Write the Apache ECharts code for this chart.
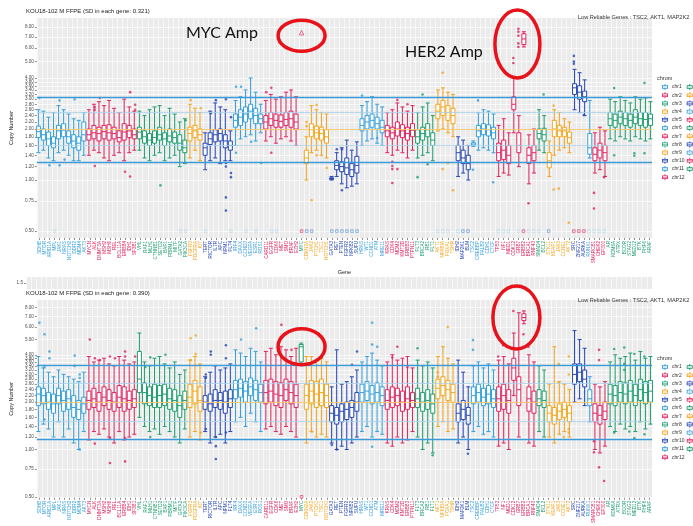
<!DOCTYPE html>
<html><head><meta charset="utf-8">
<script src="https://cdn.jsdelivr.net/npm/echarts@6/dist/echarts.min.js"></script>
<style>html,body{margin:0;padding:0;background:#fff}#c{width:693px;height:526px}</style>
</head><body><div id="c"></div>
<script>
const genes = ['SDHB','MTOR','ARID1A','MPL','JAK1','NRAS','NOTCH2','DDR2','MDM4','AKT3',
'MYCN','ALK','DNMT3A','MSH2','MSH6','REL','BCL11A','ERBB4','IDH1','SF3B1',
'VHL','RAF1','MLH1','CTNNB1','SETD2','BAP1','PBRM1','MITF','GATA2','PIK3CA',
'FGFR3','PDGFRA','KIT',
'TERT','RICTOR','IL7R','APC','NPM1','FLT4',
'IRF4','DAXX','CCND3','VEGFA','ESR1','ROS1',
'CARD11','EGFR','CDK6','MET','SMO','BRAF','EZH2',
'MYC',
'CDKN2A','JAK2','PTCH1','TSC1','NOTCH1',
'GATA3','RET','PTEN','FGFR2','NFKB2','SUFU',
'HRAS','WT1','CCND1','ATM','MRE11',
'KRAS','CDK4','MDM2','KMT2D','ERBB3','PTPN11',
'FLT3','BRCA2','RB1','FLT1',
'AKT1','NFKBIA','FOXA1','TSHR',
'IDH2','MAP2K1','BLM',
'TSC2','CREBBP','PALB2','CDH1','CTCF',
'TP53','NF1','MED1','CDK12','GRB7','ERBB2','BRCA1','RNF43',
'SMAD4','BCL2',
'STK11','KEAP1','JAK3','CCNE1','AKT2',
'SRC','ZNF217','AURKA',
'RUNX1',
'SMARCB1','CHEK2','EP300',
'AR','KDM6A','ATRX','BCOR','STAG2','MED12','BTK','PHF6','ARAF'];
const chromNames = ['chr1','chr2','chr3','chr4','chr5','chr6','chr7','chr8','chr9','chr10','chr11','chr12',
'chr13','chr14','chr15','chr16','chr17','chr18','chr19','chr20','chr21','chr22','chrX'];
const chromGeneCounts = [10,10,10,3,6,6,7,1,5,6,5,6,4,4,3,5,8,2,5,3,1,3,9];
const yTicks = [0.5,0.75,1,1.2,1.4,1.6,1.8,2,2.2,2.4,2.6,2.8,3,3.2,3.4,3.6,3.8,4,5,6,7,8];
const refTop = [3.1,2.5,2.0,1.6,1.28];
const refBot = [3.44,2.62,2.0,1.52,1.16];

// [min, Q1, median, Q3, max] per gene, top panel (SD 0.321)
const topBox = [
[1.45,1.78,1.93,2.08,2.6],[1.5,1.72,1.85,2.0,2.55],[1.35,1.6,1.75,1.92,2.35],[1.3,1.55,1.65,1.8,2.5],[1.45,1.75,1.95,2.1,2.75],
[1.5,1.8,1.97,2.15,2.6],[1.4,1.65,1.8,1.95,2.45],[1.3,1.55,1.7,1.85,2.3],[1.3,1.5,1.65,1.8,2.25],[1.4,1.7,1.85,2.2,2.5],
[1.4,1.72,1.85,2.0,2.6],[1.5,1.75,1.9,2.1,2.8],[1.45,1.7,1.88,2.05,2.9],[1.35,1.75,1.93,2.1,2.75],[1.3,1.72,1.9,2.12,2.95],
[1.4,1.75,1.88,2.05,2.65],[1.45,1.68,1.78,1.95,2.5],[1.3,1.72,1.92,2.15,3.0],[1.45,1.78,1.95,2.1,2.7],[1.5,1.75,1.85,2.0,2.55],
[1.5,1.75,1.92,2.05,2.55],[1.35,1.65,1.8,1.95,2.4],[1.3,1.6,1.72,1.88,2.6],[1.4,1.65,1.78,1.95,2.7],[1.45,1.72,1.85,2.05,2.75],
[1.3,1.6,1.75,1.9,2.4],[1.35,1.68,1.82,2.0,2.65],[1.4,1.65,1.78,1.92,2.45],[1.2,1.5,1.65,1.85,2.2],[1.25,1.45,1.55,1.72,2.3],
[1.35,1.7,1.88,2.05,2.8],[1.5,1.78,1.95,2.1,2.65],[1.3,1.72,1.85,2.0,2.5],
[1.15,1.4,1.55,1.65,1.9],[1.3,1.62,1.75,1.9,2.55],[1.35,1.68,1.85,1.98,2.85],[1.25,1.7,1.88,2.0,2.7],[1.3,1.55,1.7,1.85,2.6],[1.3,1.5,1.6,1.7,1.95],
[1.6,2.05,2.25,2.45,2.95],[1.75,2.1,2.35,2.6,3.1],[1.8,2.2,2.45,2.7,3.4],[1.85,2.3,2.55,2.8,4.0],[1.7,2.15,2.4,2.65,3.3],[1.9,2.15,2.3,2.45,2.8],
[1.7,2.0,2.2,2.4,2.95],[1.8,2.1,2.3,2.5,3.2],[1.65,2.05,2.25,2.45,3.0],[1.75,2.05,2.22,2.42,3.1],[1.8,2.1,2.28,2.5,3.3],[1.7,2.05,2.3,2.55,3.4],[1.6,2.0,2.2,2.45,3.1],
null,
[1.0,1.25,1.35,1.5,1.8],[1.45,1.8,1.98,2.15,2.75],[1.5,1.75,1.9,2.08,2.6],[1.4,1.72,1.88,2.05,2.5],[1.35,1.65,1.8,1.98,2.45],
[1.0,1.01,1.02,1.03,1.05],[1.05,1.15,1.22,1.3,1.45],[0.95,1.12,1.2,1.28,1.55],[0.9,1.08,1.18,1.35,1.72],[0.92,1.05,1.15,1.25,1.5],[0.95,1.1,1.22,1.38,1.68],
[1.6,1.95,2.1,2.3,2.75],[1.7,2.0,2.2,2.4,2.9],[1.75,2.05,2.25,2.45,3.1],[1.65,2.0,2.15,2.35,2.8],[1.6,1.9,2.05,2.25,2.7],
[1.45,1.8,1.95,2.1,2.5],[1.4,1.75,1.9,2.05,2.6],[1.5,1.82,2.0,2.2,2.85],[1.45,1.78,1.95,2.12,2.7],[1.35,1.72,1.88,2.05,2.55],[1.5,1.8,1.97,2.15,2.75],
[1.35,1.65,1.8,1.98,2.5],[1.4,1.72,1.88,2.05,2.7],[1.45,1.8,1.98,2.15,2.85],[1.3,1.6,1.72,1.9,2.4],
[1.95,2.3,2.55,2.8,3.4],[2.0,2.4,2.7,2.95,3.5],[1.9,2.25,2.5,2.75,3.3],[1.8,2.15,2.4,2.65,3.2],
[1.05,1.3,1.45,1.6,1.8],[1.1,1.25,1.35,1.5,1.72],[1.0,1.15,1.25,1.4,1.6],
[1.58,1.6,1.63,1.66,1.7],[1.5,1.8,1.95,2.1,2.5],[1.55,1.85,2.0,2.15,2.6],[1.5,1.82,1.98,2.12,2.55],[1.45,1.75,1.9,2.05,2.45],
[1.05,1.3,1.45,1.65,2.1],[1.1,1.32,1.5,1.72,2.3],[1.07,1.25,1.4,1.6,1.9],[1.9,2.6,2.8,3.1,4.0],[1.2,1.45,1.6,1.9,2.4],[6.1,6.3,6.8,7.3,7.5],[0.95,1.25,1.4,1.55,1.85],[1.1,1.3,1.45,1.6,2.0],
[1.5,1.75,1.88,2.0,2.6],[1.45,1.7,1.85,2.02,2.4],
[1.05,1.18,1.3,1.45,1.7],[1.4,1.8,2.0,2.25,2.6],[1.5,1.8,1.95,2.1,2.5],[1.55,1.8,1.95,2.05,2.3],[1.45,1.65,1.78,1.92,2.2],
[2.6,3.2,3.5,3.7,4.5],[2.5,3.0,3.3,3.6,4.3],[2.4,2.9,3.1,3.35,3.9],
[1.35,1.42,1.55,1.88,2.95],
[1.1,1.3,1.42,1.55,1.9],[1.15,1.35,1.5,1.65,2.05],[1.05,1.3,1.45,1.6,1.95],
[1.75,2.1,2.3,2.5,3.0],[1.7,2.05,2.25,2.45,2.9],[1.8,2.15,2.35,2.55,3.1],[1.75,2.1,2.3,2.5,2.95],[1.7,2.05,2.25,2.45,2.85],
[1.8,2.15,2.35,2.6,3.1],[1.75,2.1,2.3,2.5,3.0],[1.7,2.05,2.28,2.5,3.05],[1.75,2.1,2.3,2.45,2.9]
];
// bottom panel (SD 0.390)
const botBox = [
[1.3,1.9,2.25,2.5,3.9],[1.45,1.95,2.2,2.45,3.3],[1.35,1.8,2.0,2.3,3.1],[1.2,1.7,1.95,2.25,2.9],[1.5,1.95,2.2,2.45,3.2],
[1.2,1.75,2.05,2.35,3.0],[1.35,1.8,2.1,2.4,2.9],[1.1,1.6,1.85,2.2,2.8],[1.0,1.55,1.8,2.05,2.7],[1.3,1.7,1.95,2.15,3.1],
[1.15,1.8,2.05,2.35,3.9],[1.3,1.85,2.1,2.45,3.6],[1.25,1.75,2.0,2.3,3.7],[1.35,1.9,2.15,2.5,3.8],[1.2,1.8,2.05,2.4,3.5],
[1.1,1.75,2.0,2.3,3.4],[1.3,1.85,2.15,2.55,3.9],[1.15,1.75,2.1,2.5,3.7],[1.2,1.8,2.05,2.35,3.5],[1.25,1.85,2.1,2.4,3.6],
[1.6,2.3,2.8,4.2,5.5],[1.4,1.95,2.3,2.65,3.6],[1.3,1.9,2.2,2.5,3.4],[1.35,1.85,2.15,2.6,3.8],[1.25,1.85,2.2,2.55,3.9],
[1.4,1.9,2.25,2.6,3.5],[1.3,1.8,2.1,2.45,3.3],[1.2,1.75,2.05,2.4,3.6],[1.1,1.6,1.9,2.2,3.0],[1.35,1.8,2.05,2.35,3.2],
[1.2,1.85,2.15,2.6,3.7],[1.3,1.95,2.35,2.75,3.9],[1.15,1.75,2.05,2.5,3.5],
[1.3,1.8,2.0,2.2,2.9],[1.1,1.75,1.95,2.25,3.1],[1.2,1.85,2.05,2.4,3.4],[1.25,1.8,2.05,2.3,3.2],[1.1,1.7,2.0,2.35,3.3],[1.3,1.85,2.1,2.4,3.5],
[1.5,2.1,2.4,2.75,4.3],[1.6,2.15,2.45,2.8,4.1],[1.4,2.0,2.35,2.7,3.9],[1.7,2.2,2.5,2.85,4.4],[1.5,2.05,2.4,2.75,4.2],[1.3,2.0,2.3,2.6,3.6],
[1.35,1.95,2.3,2.75,4.2],[1.4,2.0,2.35,2.8,4.4],[1.3,1.9,2.25,2.7,4.0],[1.25,1.85,2.2,2.65,4.5],[1.4,2.05,2.4,2.8,4.3],[1.3,1.95,2.3,2.7,3.9],[1.2,1.85,2.2,2.6,4.4],
[3.5,3.6,4.5,4.65,4.75],
[1.1,1.8,2.2,2.6,3.9],[1.3,1.95,2.35,2.75,3.9],[1.2,1.85,2.25,2.7,3.7],[1.25,1.9,2.3,2.8,3.8],[1.2,1.85,2.2,2.6,3.6],
[1.1,1.5,1.7,1.9,2.5],[1.0,1.45,1.65,1.85,4.3],[1.05,1.5,1.75,1.95,2.6],[1.0,1.55,1.8,2.0,2.7],[1.1,1.6,1.85,2.05,2.9],[1.2,1.75,2.0,2.3,3.2],
[1.3,2.0,2.3,2.6,3.6],[1.4,2.05,2.35,2.7,3.9],[1.2,1.95,2.25,2.55,4.1],[1.3,2.0,2.3,2.65,3.7],[1.25,1.9,2.2,2.5,3.4],
[1.1,1.8,2.05,2.4,3.6],[1.05,1.85,2.15,2.5,4.0],[1.2,1.9,2.2,2.45,3.7],[1.1,1.75,2.0,2.35,3.8],[1.15,1.8,2.1,2.5,3.9],[1.3,1.85,2.05,2.3,3.3],
[1.2,1.85,2.1,2.45,3.7],[1.0,1.75,2.0,2.3,3.4],[1.1,1.8,2.05,2.4,3.6],[0.95,1.7,1.95,2.25,3.3],
[1.4,2.1,2.45,2.8,3.9],[1.5,2.2,2.55,2.9,4.5],[1.3,2.05,2.4,2.75,3.8],[1.35,2.0,2.3,2.6,3.5],
[1.1,1.5,1.7,1.95,3.7],[1.2,1.55,1.8,2.05,3.1],[1.0,1.45,1.65,1.85,2.5],
[1.3,1.95,2.2,2.5,3.4],[1.4,2.0,2.3,2.6,3.6],[1.25,1.9,2.15,2.45,3.3],[1.3,1.95,2.25,2.55,3.5],[1.2,1.85,2.1,2.4,3.2],
[1.05,1.75,2.1,2.5,3.7],[1.1,1.8,2.2,2.6,3.9],[1.0,1.7,2.05,2.4,3.5],[2.2,2.75,3.3,3.8,5.5],[1.2,1.9,2.4,2.9,7.4],[6.3,6.6,6.9,7.3,7.6],[1.1,1.75,2.1,2.5,4.0],[1.05,1.7,2.0,2.35,3.6],
[1.3,1.9,2.1,2.4,3.4],[1.2,1.85,2.05,2.35,3.2],
[1.2,1.5,1.7,1.9,2.6],[1.1,1.45,1.65,1.85,4.5],[1.25,1.55,1.75,1.95,2.7],[1.3,1.6,1.8,2.0,2.6],[1.2,1.5,1.7,1.9,2.4],
[2.0,2.6,3.0,3.5,5.7],[2.1,2.7,3.1,3.5,5.0],[1.9,2.5,2.8,3.2,4.4],
[1.5,1.9,2.1,2.4,2.9],
[1.0,1.5,1.7,1.95,2.6],[0.95,1.45,1.65,1.9,2.5],[1.05,1.55,1.75,2.0,2.7],
[1.4,1.95,2.25,2.6,3.6],[1.3,1.9,2.2,2.55,4.0],[1.45,2.0,2.3,2.7,3.8],[1.35,1.95,2.25,2.65,3.9],[1.4,2.0,2.35,2.75,4.1],
[1.3,1.9,2.2,2.6,3.7],[1.5,2.05,2.4,2.8,4.2],[1.35,1.95,2.3,2.7,3.8],[1.45,2.0,2.35,2.75,3.9]
];
// outliers: [gene index, copy number]
const topOut = [[0,3.05],[4,2.95],[7,3.0],[2,1.22],[4,1.22],[5,1.32],
[11,2.7],[11,2.6],[12,3.05],[18,3.3],[19,2.6],[19,2.78],[11,1.21],[17,1.12],[18,1.05],
[24,0.93],[29,2.25],[30,2.96],[32,2.65],
[37,1.26],[37,1.2],[38,1.1],[38,1.04],[37,0.79],[37,0.66],[35,2.96],[37,3.0],[34,2.48],[38,2.35],
[39,3.55],[40,3.55],[39,1.45],[44,1.26],[42,1.68],[45,3.3],[46,3.5],[46,1.45],
[53,2.08],[53,2.2],[54,0.76],[55,1.4],[57,1.18],[55,2.77],[59,1.52],[60,1.52],[60,0.87],
[67,1.77],[64,3.15],[70,1.28],[70,1.21],[70,1.16],[70,0.96],[71,1.16],[71,2.97],[73,2.8],
[76,3.2],[75,1.04],[77,1.24],[80,4.3],[80,1.16],[82,0.87],[81,1.26],
[86,1.15],[90,0.97],[87,2.95],
[94,4.9],[94,5.25],[95,7.8],[95,7.5],[95,7.1],[95,6.4],[95,6.1],[97,0.73],
[100,3.2],[102,0.88],[103,0.89],[105,0.56],[102,2.75],
[106,5.4],[106,5.0],[106,4.85],[108,2.42],[110,0.84],[110,0.68],[112,1.04],
[114,3.49],[120,3.74],[114,1.4],[118,1.44],[118,1.39],[120,1.44]];
const botOut = [[0,6.4],[1,5.4],[1,3.35],[2,4.2],[2,3.8],[1,1.55],[7,3.95],[7,3.4],[8,3.0],[8,2.85],[8,1.0],
[10,5.0],[11,3.8],[12,3.7],[14,3.9],[15,3.8],[17,4.2],[17,3.9],[19,3.9],[11,1.09],[14,0.82],[14,1.18],[17,0.84],[17,1.18],
[21,3.35],[22,3.85],[25,4.0],[22,1.2],[30,5.1],[31,5.3],[30,3.7],[31,4.05],[32,1.28],
[33,3.0],[33,2.85],[33,1.35],[34,4.2],[34,4.0],[35,0.87],[35,1.2],[35,1.05],[37,4.6],[37,3.8],[37,1.28],
[40,5.0],[43,5.9],[48,6.2],[50,4.3],[56,3.85],[54,1.3],[58,1.07],[59,1.0],[62,3.45],[63,4.2],
[66,6.4],[66,4.65],[67,4.5],[66,1.04],[70,3.84],[71,4.5],[73,3.35],[75,4.4],[78,0.92],
[81,6.0],[79,3.1],[79,2.9],[85,0.94],[86,4.96],[86,4.3],
[92,4.6],[91,3.9],[94,7.6],[96,5.4],[97,4.5],
[103,3.5],[103,2.65],[104,1.2],[105,1.35],[105,1.28],[105,3.9],[105,3.0],
[110,1.13],[110,0.96],[111,0.77],[112,0.63],[111,4.3],[111,3.7],
[114,4.35],[116,4.45],[118,4.05],[120,3.9],[116,3.5],[116,3.2],[114,1.28],[118,1.18],[117,1.3],[120,1.25]];
const mycTop = [[52,7.4]];
const lowRedTop = [52,96,106,107,108];
const lowBlueTop = [53,54,58,59,60,61,62,63,84,85,101];
const lowFaintTop = [3,28,29,33,38,41,43,46,47,79,80,81,83,91,92,93,95,97,98,99,109,110,111,112];
const lowRedBot = [52];
const lowValue = 0.5;

const palette = ['#36A0DC','#E0245E','#1F9E6F','#F3A51F','#2646B5'];
const chromColor = chromNames.map((c,i)=>palette[i%5]);
const geneChrom = [];
chromGeneCounts.forEach((n,ci)=>{for(let k=0;k<n;k++) geneChrom.push(ci);});

const FONT = 'Liberation Sans, Arial, sans-serif';
const chart = echarts.init(document.getElementById('c'), null, {renderer:'canvas'});

function xAxisFor(gi, showLabels, name){
  return {type:'category', gridIndex:gi, data:genes, boundaryGap:true,
    axisLine:{show:false},
    axisTick:{show:showLabels, alignWithLabel:true, interval:0, length:2, lineStyle:{color:'#444', width:0.6}},
    axisLabel:{show:showLabels, interval:0, rotate:90, fontSize:4.6, margin:3, fontFamily:FONT,
      color:(v,i)=>chromColor[geneChrom[i]]},
    splitLine:{show:true, interval:0, lineStyle:{color:'#ffffff', width:0.6}},
    name:name||'', nameLocation:'middle', nameGap:31, nameTextStyle:{fontSize:5.5, color:'#222', fontFamily:FONT}};
}
function yAxisFor(gi, min, max){
  return {type:'log', logBase:2, gridIndex:gi, min:min, max:max,
    axisLine:{show:false},
    axisTick:{show:true, customValues:yTicks, length:2, lineStyle:{color:'#444', width:0.6}},
    axisLabel:{customValues:yTicks, fontSize:4.6, color:'#4d4d4d', margin:3, fontFamily:FONT,
      formatter:v=>Number(v).toFixed(2)},
    splitLine:{show:true, lineStyle:{color:'#ffffff', width:0.7}},
    minorTick:{show:false},
    name:'Copy Number', nameLocation:'middle', nameGap:17, nameRotate:90,
    nameTextStyle:{fontSize:5.5, color:'#222', fontFamily:FONT}};
}
function boxSeries(axisIdx, boxes){
  return chromNames.map((name, ci)=>({
    type:'boxplot', name:name, xAxisIndex:axisIdx, yAxisIndex:axisIdx,
    encode:{x:0, y:[1,2,3,4,5]},
    boxWidth:[4,4], silent:true, z:3,
    itemStyle:{color:'#ffffff', borderColor:chromColor[ci], borderWidth:1},
    data: boxes.map((b,gi)=> (b && geneChrom[gi]===ci) ? [gi].concat(b) : null).filter(Boolean)
  }));
}
function outSeries(axisIdx, pts){
  return {type:'scatter', xAxisIndex:axisIdx, yAxisIndex:axisIdx, symbol:'circle', symbolSize:2.6, silent:true, z:4,
    data:pts, itemStyle:{color:p=>chromColor[geneChrom[p.data[0]]]}};
}
const refStyle = [{c:'#3C9BD6',w:1.3},{c:'#A9D2EC',w:0.8},{c:'#F7C66E',w:0.9},{c:'#A9D2EC',w:0.8},{c:'#3C9BD6',w:1.3}];
function refSeries(axisIdx, vals){
  return {type:'scatter', xAxisIndex:axisIdx, yAxisIndex:axisIdx, data:[], silent:true, z:2,
    markLine:{symbol:'none', silent:true, animation:false, label:{show:false},
      data: vals.map((v,i)=>({yAxis:v, lineStyle:{color:refStyle[i].c, width:refStyle[i].w, type:'solid'}}))}};
}
function lowSeries(axisIdx, idxs, color, op){
  return {type:'scatter', xAxisIndex:axisIdx, yAxisIndex:axisIdx, symbol:'rect', symbolSize:2.6, silent:true, z:4,
    data: idxs.map(i=>[i, lowValue]),
    itemStyle:{color:'rgba(255,255,255,0)', borderColor:color, borderWidth:0.6, opacity:op}};
}
const icon = 'path://M3.4,0H4.6V1.6H3.4Z M0,1.6H8V6.4H0Z M1.1,2.6V5.4H6.9V2.6Z M1.1,3.7H6.9V4.3H1.1Z M3.4,6.4H4.6V8H3.4Z';
function legendFor(top){
  return {orient:'vertical', left:662, top:top, height:102, itemWidth:8, itemHeight:6, itemGap:2.2, padding:0,
    icon:icon, selectedMode:false, textStyle:{fontSize:5, color:'#333', fontFamily:FONT, padding:[0,0,0,-2]},
    data: chromNames.map((n,i)=>({name:n, itemStyle:{color:chromColor[i], borderWidth:0}}))};
}

const option = {
  animation:false,
  backgroundColor:'#ffffff',
  textStyle:{fontFamily:FONT},
  title:[
    {text:'KOU18-102 M FFPE (SD in each gene: 0.321)', left:26, top:8, padding:0, textStyle:{fontSize:6, fontWeight:'normal', color:'#222'}},
    {text:'KOU18-102 M FFPE (SD in each gene: 0.390)', left:26, top:290, padding:0, textStyle:{fontSize:6, fontWeight:'normal', color:'#222'}},
    {text:'Low Reliable Genes : TSC2, AKT1, MAP2K2', left:578, top:14, padding:0, textStyle:{fontSize:5.6, fontWeight:'normal', color:'#333'}},
    {text:'Low Reliable Genes : TSC2, AKT1, MAP2K2', left:578, top:297, padding:0, textStyle:{fontSize:5.6, fontWeight:'normal', color:'#333'}},
    {text:'chrom', left:657, top:75, padding:0, textStyle:{fontSize:5.5, fontWeight:'normal', color:'#333'}},
    {text:'chrom', left:657, top:355, padding:0, textStyle:{fontSize:5.5, fontWeight:'normal', color:'#333'}}
  ],
  legend:[legendFor(84), legendFor(364)],
  grid:[
    {left:26, top:18, width:626, height:220, show:true, backgroundColor:'#EBEBEB', borderWidth:0},
    {left:26, top:277, width:626, height:12, show:true, backgroundColor:'#EBEBEB', borderWidth:0},
    {left:26, top:300, width:626, height:213, show:true, backgroundColor:'#EBEBEB', borderWidth:0}
  ],
  xAxis:[xAxisFor(0,true,'Gene'), xAxisFor(1,false,''), xAxisFor(2,true,'')],
  yAxis:[yAxisFor(0,0.455,9.04),
    {type:'value', gridIndex:1, min:1, max:2, axisLine:{show:false},
      axisTick:{show:true, customValues:[1.5], length:2, lineStyle:{color:'#444', width:0.6}},
      axisLabel:{customValues:[1.5], fontSize:4.6, color:'#4d4d4d', margin:3, formatter:v=>Number(v).toFixed(1)},
      splitLine:{show:false}},
    yAxisFor(2,0.493,8.92)],
  series:[].concat(
    [refSeries(0, refTop), refSeries(2, refBot)],
    boxSeries(0, topBox), boxSeries(2, botBox),
    [outSeries(0, topOut), outSeries(2, botOut),
     lowSeries(0, lowRedTop, '#E0245E', 1), lowSeries(0, lowBlueTop, '#3C7FD0', 0.85), lowSeries(0, lowFaintTop, '#8EC3E8', 0.5),
     lowSeries(2, lowRedBot, '#E0245E', 1),
     {type:'scatter', xAxisIndex:0, yAxisIndex:0, symbol:'triangle', symbolSize:4.5, silent:true, z:5,
      data:mycTop, itemStyle:{color:'rgba(255,255,255,0)', borderColor:'#E0245E', borderWidth:0.8}}]
  )
};
chart.setOption(option);

// annotations anchored to data points
const g = [];
const mycT = chart.convertToPixel({gridIndex:0}, mycTop[0]);
const herT = chart.convertToPixel({gridIndex:0}, [96, topBox[96][2]]);
const mycB = chart.convertToPixel({gridIndex:2}, [52, botBox[52][2]]);
const herB = chart.convertToPixel({gridIndex:2}, [96, botBox[96][2]]);
const red = '#E8121B';
g.push({type:'ellipse', shape:{cx:mycT[0], cy:mycT[1]+3, rx:23.5, ry:15.5}, style:{fill:null, stroke:red, lineWidth:3.5}, z:100});
g.push({type:'ellipse', shape:{cx:herT[0]-6, cy:herT[1]+5, rx:22.5, ry:34}, style:{fill:null, stroke:red, lineWidth:3.5}, z:100});
g.push({type:'ellipse', shape:{cx:mycB[0], cy:mycB[1], rx:23.5, ry:18}, style:{fill:null, stroke:red, lineWidth:3.5}, z:100});
g.push({type:'ellipse', shape:{cx:herB[0]-7, cy:herB[1], rx:23.5, ry:31.5}, style:{fill:null, stroke:red, lineWidth:3.5}, z:100});
g.push({type:'text', left:186, top:25, z:100, style:{text:'MYC Amp', font:'16px Lato, "Open Sans", sans-serif', fill:'#111'}});
g.push({type:'text', left:405, top:44, z:100, style:{text:'HER2 Amp', font:'16px Lato, "Open Sans", sans-serif', fill:'#111'}});
chart.setOption({graphic:g});
</script></body></html>
